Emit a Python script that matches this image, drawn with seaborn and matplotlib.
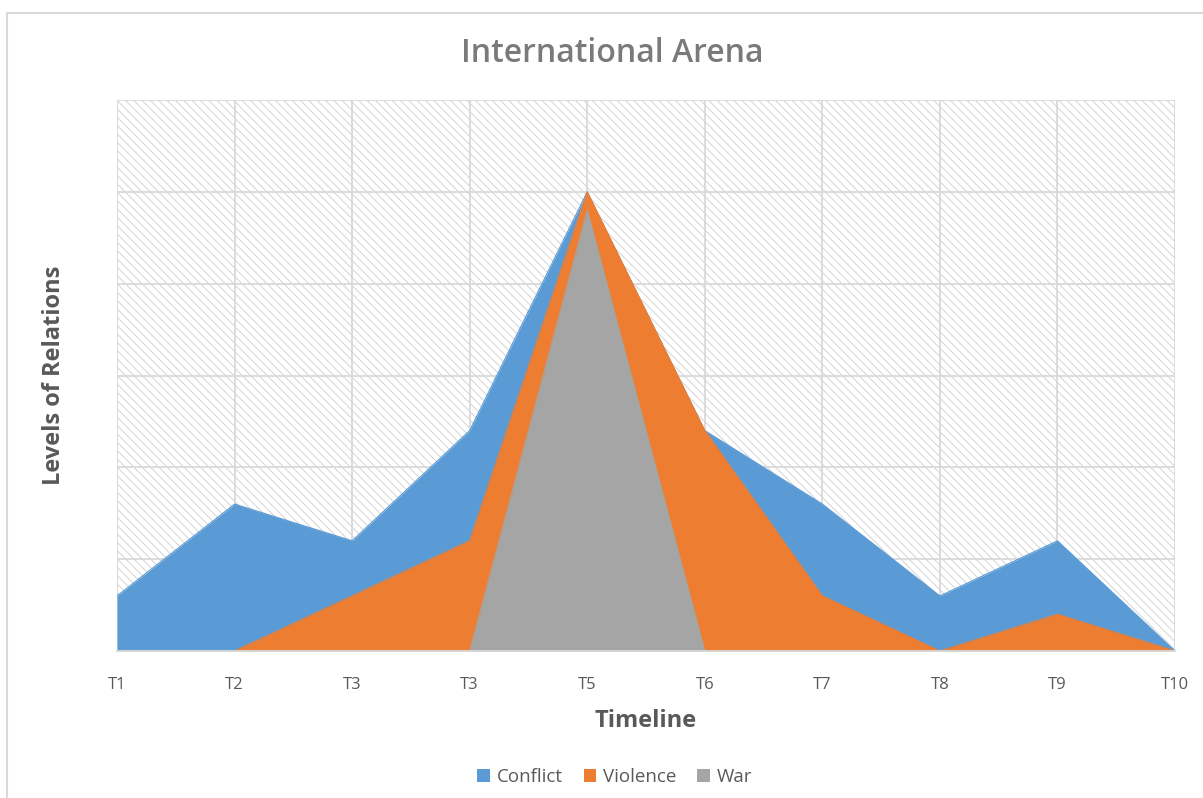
import matplotlib
matplotlib.use("Agg")
import matplotlib.pyplot as plt
from matplotlib.patches import Rectangle, Patch
import seaborn as sns
import pandas as pd

# Timeline categories and the three relation levels
periods = ["T1", "T2", "T3", "T3", "T5", "T6", "T7", "T8", "T9", "T10"]
conflict = [3, 8, 6, 12, 25, 12, 8, 3, 6, 0]
violence = [0, 0, 3, 6, 25, 12, 3, 0, 2, 0]
war = [0, 0, 0, 0, 24, 0, 0, 0, 0, 0]

series_names = ["Conflict", "Violence", "War"]
series_values = [conflict, violence, war]
series_colors = ["#5B9BD5", "#ED7D31", "#A5A5A5"]

sns.set_theme(style="white")
plt.rcParams["font.family"] = ["Open Sans", "DejaVu Sans"]
plt.rcParams["hatch.linewidth"] = 0.7

W, H = 1203, 798
fig = plt.figure(figsize=(W / 100, H / 100), dpi=100)
ax = fig.add_axes([117 / W, 1 - 651 / H, (1175 - 117) / W, (651 - 100) / H])

# outer chart frame
fig.patches.append(Rectangle((7 / W, -0.05), 1.2, 1 - 13 / H + 0.05,
                             transform=fig.transFigure, fill=False,
                             edgecolor="#D9D9D9", linewidth=1.5, zorder=0))

# hatched plot-area background
ax.set_facecolor("white")
ax.add_patch(Rectangle((0, 0), 1, 1, transform=ax.transAxes, facecolor="white",
                       edgecolor="#D4D4D4", hatch="\\\\\\\\", linewidth=0, zorder=0.2))

x = list(range(len(periods)))
for name, vals, col in zip(series_names, series_values, series_colors):
    df = pd.DataFrame({"x": x, "y": vals})
    ax.fill_between(df["x"], 0, df["y"], color=col, linewidth=0, zorder=2)
    sns.lineplot(data=df, x="x", y="y", ax=ax, color=col, linewidth=0.8,
                 zorder=2, legend=False)

ax.set_xlim(0, len(periods) - 1)
ax.set_ylim(0, 30)
ax.set_xticks(x)
ax.set_xticklabels(periods)
ax.set_yticks(range(0, 31, 5))
ax.set_yticklabels([])
ax.set_axisbelow(True)
ax.grid(True, color="#D9D9D9", linewidth=1.3)

for side in ["top", "right", "left"]:
    ax.spines[side].set_visible(False)
ax.spines["bottom"].set_color("#D9D9D9")
ax.spines["bottom"].set_linewidth(1.3)
ax.spines["bottom"].set_zorder(3)

ax.tick_params(axis="x", length=0, pad=19, labelsize=12, labelcolor="#595959")
ax.tick_params(axis="y", length=0)

ax.set_xlabel("Timeline", fontsize=17, fontweight="bold", color="#595959", labelpad=11)
ax.set_ylabel("Levels of Relations", fontsize=17, fontweight="bold", color="#595959", labelpad=33)

fig.text(612 / W, 1 - 53 / H, "International Arena", ha="center", va="center",
         fontsize=23, fontweight="semibold", color="#7A7A7A")

handles = [Patch(facecolor=c, edgecolor="none") for c in series_colors]
fig.legend(handles, series_names, loc="center", bbox_to_anchor=(615 / W, 1 - 777 / H),
           ncol=3, frameon=False, fontsize=13.5, handlelength=0.65, handleheight=0.65,
           handletextpad=0.4, columnspacing=1.1, labelcolor="#595959")

fig.savefig("out.png", dpi=100)
